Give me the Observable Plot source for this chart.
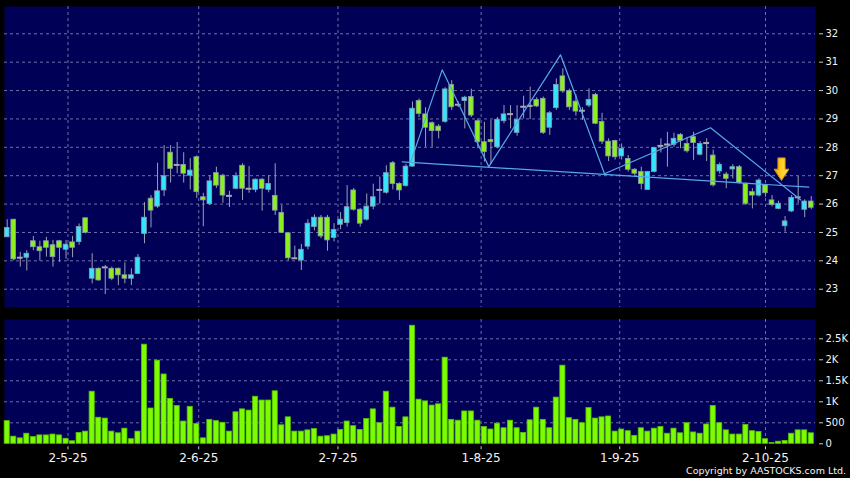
<!DOCTYPE html>
<html><head><meta charset="utf-8">
<script src="https://cdn.jsdelivr.net/npm/d3@7"></script>
<script src="https://cdn.jsdelivr.net/npm/@observablehq/plot@0.6"></script>
<style>
html,body{margin:0;padding:0;background:#000;}
#chart{position:relative;width:850px;height:478px;background:#000;overflow:hidden;font-family:"DejaVu Sans",sans-serif;}
#chart svg{position:absolute;left:0;display:block;overflow:visible;}
#copy{position:absolute;right:4px;top:465px;font:9.5px "DejaVu Sans",sans-serif;color:#f4f4f4;white-space:nowrap;line-height:11px;}
</style></head><body><div id="chart"><div id="copy">Copyright by AASTOCKS.com Ltd.</div></div>
<script>
// ---- data (index 1..124 = trading days) ----
const opens = [
24.83,25.45,24.11,24.11,24.69,24.48,24.69,24.55,24.69,24.39,
24.65,24.66,25.50,23.37,23.72,23.77,23.72,23.72,23.49,23.37,
23.54,24.95,26.19,25.91,26.48,27.81,27.38,27.38,27.00,27.65,
26.24,26.00,27.09,27.00,26.29,26.54,27.35,26.54,26.50,26.86,
26.50,26.29,25.69,24.97,24.09,24.01,24.50,25.19,25.52,25.52,
24.81,25.27,25.33,26.48,25.80,25.45,25.91,26.50,26.40,27.44,
26.71,26.64,27.32,29.63,29.16,28.85,28.73,28.90,30.20,29.50,
29.63,29.77,28.92,28.18,28.26,28.00,28.92,29.17,28.51,29.43,
29.46,29.67,29.71,28.69,29.38,30.50,29.98,29.61,29.29,29.47,
29.85,28.89,28.20,28.22,27.68,27.59,27.21,27.13,26.50,27.13,
28.05,28.10,28.09,28.44,28.12,28.36,27.74,28.15,27.71,27.15,
27.04,27.22,27.30,26.71,26.42,26.30,26.66,26.13,25.83,25.22,
25.74,26.24,25.80,26.09];
const closes = [
25.16,24.05,24.11,24.25,24.48,24.34,24.46,24.13,24.46,24.57,
24.46,25.19,24.99,23.72,23.31,23.77,23.37,23.49,23.37,23.49,
24.11,25.52,25.77,26.45,26.98,27.24,27.38,27.07,27.18,26.42,
26.13,26.80,26.65,26.30,26.29,26.98,26.54,26.54,26.86,26.54,
26.71,25.77,24.99,24.09,24.09,24.39,25.31,25.52,24.86,24.72,
25.09,25.45,25.89,25.80,25.31,25.91,26.24,26.50,27.09,26.71,
26.48,27.32,29.36,29.18,28.69,28.57,28.57,30.04,29.41,29.50,
29.75,29.12,28.18,27.83,28.18,28.97,29.16,29.17,28.96,29.43,
29.46,29.44,28.51,29.20,30.20,29.97,29.41,29.26,29.29,29.67,
28.83,28.20,27.68,27.65,27.95,27.21,27.07,26.71,27.13,27.98,
28.05,28.10,28.30,28.22,27.86,28.15,28.12,28.15,26.66,27.38,
26.89,27.30,26.74,26.01,26.30,26.83,26.38,25.97,26.01,25.39,
26.22,26.24,26.09,25.87];
const highs = [
25.45,25.45,24.30,24.36,24.86,24.69,24.83,24.72,24.72,24.72,
24.86,25.30,25.50,24.25,23.75,23.84,23.78,23.75,23.93,23.72,
24.22,26.05,26.30,27.44,28.06,28.06,28.17,27.81,27.60,27.70,
26.38,27.00,27.30,27.05,26.45,27.10,27.42,27.32,26.88,26.90,
27.00,27.42,25.95,25.00,24.52,24.58,25.45,25.62,25.60,25.60,
25.31,25.70,26.65,26.55,25.85,26.36,26.70,26.95,27.35,27.50,
26.75,27.40,29.60,29.70,29.40,28.90,28.80,30.10,30.35,29.60,
29.80,30.05,29.00,28.88,28.95,29.05,29.47,29.47,29.47,29.80,
30.12,29.75,29.77,29.26,30.41,30.77,30.05,29.85,29.40,30.06,
29.90,29.20,28.30,28.25,28.12,27.71,27.25,27.30,27.15,28.00,
28.30,28.53,28.50,28.48,28.35,28.53,28.20,28.30,27.90,27.45,
27.12,27.39,27.36,26.75,26.54,26.89,26.70,26.30,26.10,25.56,
26.30,26.97,26.15,26.27];
const lows = [
24.83,24.00,23.78,23.64,24.36,23.99,24.13,23.78,23.95,24.06,
24.11,24.55,24.95,23.19,23.28,22.81,23.30,23.13,23.19,23.13,
23.54,24.60,25.16,25.85,26.27,26.74,27.07,26.74,26.50,26.20,
25.20,25.95,26.55,26.03,25.88,26.50,26.13,26.38,26.40,25.75,
26.40,25.60,24.97,24.00,24.05,23.66,24.39,25.06,24.78,24.34,
24.67,25.10,25.19,25.75,25.19,25.40,25.80,26.00,26.35,26.50,
26.13,26.60,27.30,29.05,28.00,28.00,28.30,28.85,29.30,29.40,
28.65,29.05,27.95,27.48,27.40,27.95,28.83,28.65,28.39,29.00,
28.98,29.40,28.45,28.42,29.30,29.90,29.30,29.10,28.95,29.40,
28.80,28.10,27.50,27.55,27.55,27.13,27.00,26.50,26.48,27.10,
27.80,27.30,28.00,27.95,27.80,27.54,27.70,27.50,26.60,27.05,
26.54,26.89,26.70,25.95,25.83,26.25,26.24,25.90,25.80,25.01,
25.70,26.01,25.52,25.80];
const volumes = [
540,170,130,240,160,200,200,220,200,120,
60,260,290,1240,620,600,290,250,360,110,
290,2360,840,1980,1650,1070,900,530,880,470,
130,570,540,500,290,750,820,790,1120,1030,
1030,1250,440,630,290,290,320,350,170,180,
220,330,530,420,330,590,820,490,1240,860,
400,630,2810,1050,1010,910,940,2050,570,550,
770,770,550,400,340,480,370,550,370,260,
560,860,570,370,1100,1860,610,570,490,850,
600,630,650,290,340,300,190,370,290,360,
400,240,360,250,490,270,240,460,900,490,
320,220,220,450,300,280,110,20,50,70,
240,320,320,250];
const dateTickIdx = [10.3, 30.3, 51.6, 73.5, 94.7, 117.0];
const dateTickLabels = ["2-5-25","2-6-25","2-7-25","1-8-25","1-9-25","2-10-25"];
const priceTicks = [23,24,25,26,27,28,29,30,31,32];
const volTicks = [0,500,1000,1500,2000,2500];
const volTickLabels = ["0","500","1K","1.5K","2K","2.5K"];
// pattern lines (index, price)
const neckIdx = [61.43, 123.63];
const neckVal = [27.49, 26.595];
const zigIdx = [62.7, 67.54, 74.67, 85.64, 92.37, 108.59, 122.36];
const zigVal = [27.47, 30.73, 27.32, 31.26, 27.07, 28.69, 26.15];
const arrowIdx = [119.45];
const arrowVal = [27.23];

// ---- build ----
const NAVY = "#000057", GRID = "#6f6fa8", CYAN = "#36e4fb", GREEN = "#8cf01e",
      EDGE = "#8a9ab0", WICK = "#9aa0b4", DOJI = "#a8a8b0", LIME = "#7cfc00", LINE = "#56a8e6";
const candles = opens.map((o, k) => ({i: k + 1, o, c: closes[k], h: highs[k], l: lows[k]}));
const bodies = candles.filter(d => d.o !== d.c);
const dojis = candles.filter(d => d.o === d.c);
const vols = volumes.map((v, k) => ({i: k + 1, v}));
const neck = neckIdx.map((i, k) => ({i, v: neckVal[k]}));
const zig = zigIdx.map((i, k) => ({i, v: zigVal[k]}));
const arrow = arrowIdx.map((i, k) => ({i, v: arrowVal[k]}));
const xDomain = [0.587, 124.65];
const HW = 0.36;

const arrowSymbol = {
  draw(ctx, size) {
    const r = Math.sqrt(size / Math.PI);
    const sw = r * 0.32, hw = r * 0.66;
    ctx.moveTo(-sw, -r); ctx.lineTo(sw, -r); ctx.lineTo(sw, 0); ctx.lineTo(hw, 0);
    ctx.lineTo(0, r); ctx.lineTo(-hw, 0); ctx.lineTo(-sw, 0); ctx.closePath();
  }
};

const baseStyle = {background: "transparent", color: "#f2f2f2", fontFamily: "DejaVu Sans, sans-serif", fontSize: "10px"};

const topChart = Plot.plot({
  width: 850, height: 312,
  marginLeft: 4, marginRight: 35, marginTop: 6, marginBottom: 5,
  style: baseStyle,
  x: {domain: xDomain, axis: null},
  y: {domain: [22.356, 32.962], axis: null},
  marks: [
    Plot.frame({fill: NAVY, stroke: null}),
    Plot.gridY(priceTicks, {stroke: GRID, strokeOpacity: 1, strokeDasharray: "3,3"}),
    Plot.gridX(dateTickIdx, {stroke: GRID, strokeOpacity: 1, strokeDasharray: "3,3"}),
    Plot.axisY(priceTicks, {anchor: "right", label: null, tickSize: 4, tickPadding: 3, dx: 3, stroke: "#c8c8c8", fill: "#f2f2f2", fontSize: 10, tickFormat: d => String(d)}),
    Plot.ruleX(candles, {x: "i", y1: "l", y2: "h", stroke: WICK, strokeWidth: 1}),
    Plot.rect(bodies, {x1: d => d.i - HW, x2: d => d.i + HW, y1: "o", y2: "c",
      fill: d => d.c > d.o ? CYAN : GREEN, stroke: EDGE, strokeWidth: 0.8}),
    Plot.ruleY(dojis, {y: "o", x1: d => d.i - 0.45, x2: d => d.i + 0.45, stroke: DOJI, strokeWidth: 2}),
    Plot.line(neck, {x: "i", y: "v", stroke: LINE, strokeWidth: 1.2}),
    Plot.line(zig, {x: "i", y: "v", stroke: LINE, strokeWidth: 1.2}),
    Plot.dot(arrow, {x: "i", y: "v", symbol: arrowSymbol, r: 11.3, fill: "url(#arrowGrad)", stroke: "#d88a00", strokeWidth: 1})
  ]
});
{
  const defs = d3.select(topChart).insert("defs", ":first-child");
  const g = defs.append("linearGradient").attr("id", "arrowGrad").attr("x1", "0").attr("x2", "1").attr("y1", "0").attr("y2", "0");
  g.append("stop").attr("offset", "0").attr("stop-color", "#f39a12");
  g.append("stop").attr("offset", "0.45").attr("stop-color", "#ffcc1e");
  g.append("stop").attr("offset", "1").attr("stop-color", "#ffe85a");
}

const labelMap = new Map(dateTickIdx.map((d, k) => [d, dateTickLabels[k]]));
const volLabelMap = new Map(volTicks.map((d, k) => [d, volTickLabels[k]]));

const volChart = Plot.plot({
  width: 850, height: 166,
  marginLeft: 4, marginRight: 35, marginTop: 7, marginBottom: 34.7,
  style: baseStyle,
  x: {domain: xDomain, axis: null},
  y: {domain: [0, 2959], axis: null},
  marks: [
    Plot.frame({fill: NAVY, stroke: null}),
    Plot.gridY(volTicks.filter(v => v > 0), {stroke: GRID, strokeOpacity: 1, strokeDasharray: "3,3"}),
    Plot.gridX(dateTickIdx, {stroke: GRID, strokeOpacity: 1, strokeDasharray: "3,3"}),
    Plot.rect(vols, {x1: d => d.i - 0.39, x2: d => d.i + 0.39, y1: 0, y2: "v", fill: LIME, stroke: "#58c000", strokeWidth: 0.8}),
    Plot.axisY(volTicks, {anchor: "right", label: null, tickSize: 4, tickPadding: 3, dx: 3, stroke: "#c8c8c8", fill: "#f2f2f2", fontSize: 10, tickFormat: d => volLabelMap.get(d)}),
    Plot.axisX(dateTickIdx, {anchor: "bottom", label: null, tickSize: 3, tickPadding: 4, dy: 3, stroke: "#c8c8c8", fill: "#f2f2f2", fontSize: 12, tickFormat: d => labelMap.get(d)})
  ]
});

const host = document.getElementById("chart");
topChart.style.top = "0px";
volChart.style.top = "312px";
host.insertBefore(volChart, host.firstChild);
host.insertBefore(topChart, host.firstChild);
</script>
</body></html>
